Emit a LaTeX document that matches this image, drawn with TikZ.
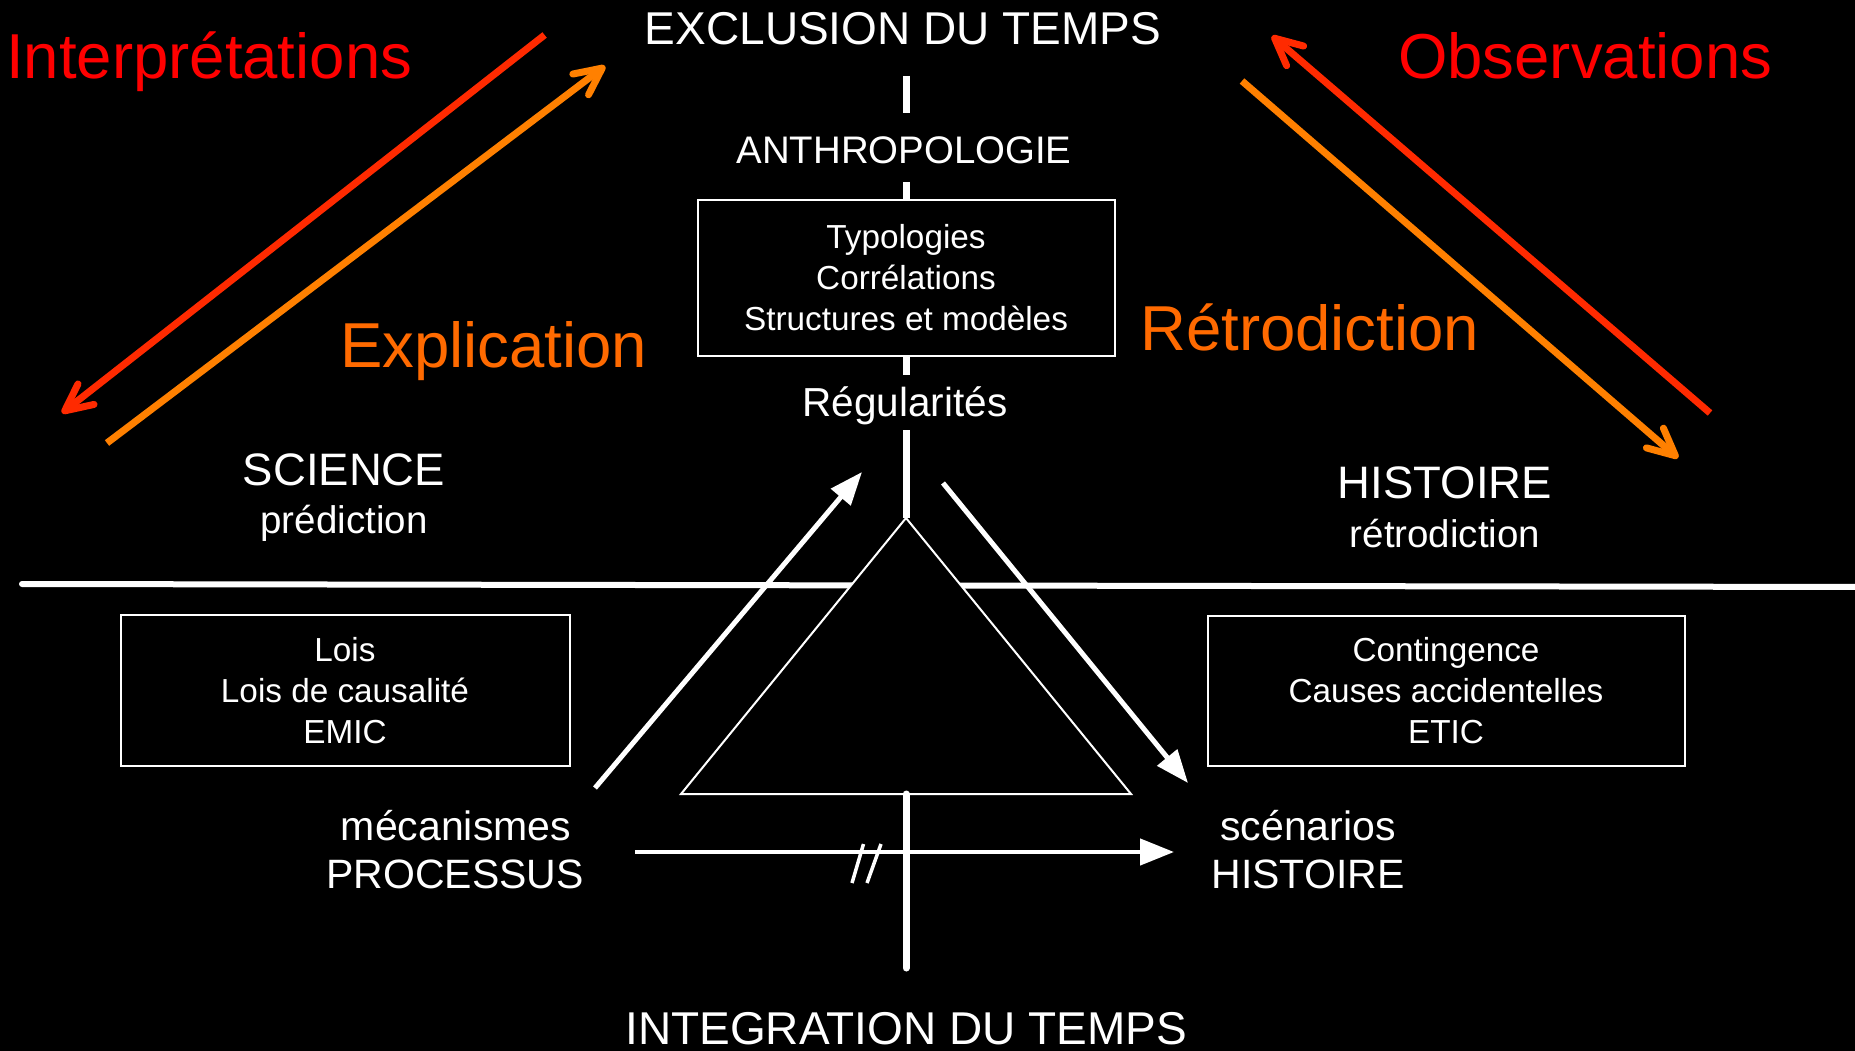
\documentclass[tikz,border=0pt]{standalone}
\usepackage{fontspec}
\setmainfont{Liberation Sans}
\usetikzlibrary{arrows.meta}
\definecolor{redtxt}{HTML}{FF0000}
\definecolor{redarr}{HTML}{FF2A00}
\definecolor{orgarr}{HTML}{FF8000}
\definecolor{orgtxt}{HTML}{FF6A00}
\newcommand{\myfs}[1]{\fontsize{#1}{#1}\selectfont}
\begin{document}
\begin{tikzpicture}[x=1pt,y=-1pt,
  lbl/.style={text=white, inner sep=0pt, anchor=base},
  biglbl/.style={inner sep=0pt, anchor=base west, font=\myfs{63.5}},
  boxst/.style={draw=white, line width=2pt, text=white, align=center, inner sep=0pt,
    font=\fontsize{33.3}{41}\selectfont},
  vline/.style={white, line width=7pt},
  colarrow/.style={line width=7pt, -{Straight Barb[length=27pt,width=26pt,round]}},
  warrow/.style={white, line width=5pt, -{Triangle[length=33pt,width=25pt]}}
]
\useasboundingbox (0,0) rectangle (1855,1051);
\fill[black] (0,0) rectangle (1855,1051);

% horizontal separator
\coordinate (hl) at (22,584);
\coordinate (hr) at (1870,587);
\draw[white, line width=6pt, line cap=round] (hl) -- (hr);

% triangle
\coordinate (apex) at (906,518);
\coordinate (bl) at (681,794);
\coordinate (br) at (1131,794);
\coordinate (basemid) at (906,794);
\draw[white, line width=2pt, fill=black] (apex) -- (bl) -- (br) -- cycle;

% texts
\node[biglbl, text=redtxt] (interp) at (6,79) {Interprétations};
\node[biglbl, text=redtxt] (obs) at (1398,79) {Observations};
\node[biglbl, text=orgtxt] (expl) at (340,367) {Explication};
\node[biglbl, text=orgtxt] (retro) at (1140,350) {Rétrodiction};

\node[lbl, font=\myfs{46}] (excl) at (903,45) {EXCLUSION DU TEMPS};
\node[lbl, font=\myfs{38.4}] (anthro) at (904,164) {ANTHROPOLOGIE};
\node[lbl, font=\myfs{40.5}] (regul) at (905,416) {Régularités};
\node[lbl, font=\myfs{45.5}] (science) at (344,485) {SCIENCE};
\node[lbl, font=\myfs{38.5}] (predic) at (344,533) {prédiction};
\node[lbl, font=\myfs{45.5}] (hist) at (1445,498) {HISTOIRE};
\node[lbl, font=\myfs{38.5}] (retrod) at (1445,547) {rétrodiction};
\node[lbl, font=\myfs{41}] (meca) at (456,840) {mécanismes};
\node[lbl, font=\myfs{41}] (proc) at (455,888) {PROCESSUS};
\node[lbl, font=\myfs{41}] (scen) at (1308,840) {scénarios};
\node[lbl, font=\myfs{41}] (hist2) at (1308,888) {HISTOIRE};
\node[lbl, font=\myfs{46}] (integ) at (906,1044) {INTEGRATION DU TEMPS};

% boxes
\node[boxst, minimum width=417pt, minimum height=156pt] (typo) at (906,278)
  {Typologies\\Corrélations\\Structures et modèles};
\node[boxst, minimum width=449pt, minimum height=151pt] (lois) at (345,690.5)
  {Lois\\Lois de causalité\\EMIC};
\node[boxst, minimum width=477pt, minimum height=150pt] (conting) at (1446,691)
  {Contingence\\Causes accidentelles\\ETIC};

% vertical axis
\coordinate (v1a) at (906,76);
\coordinate (v1b) at (906,113);
\coordinate (v2a) at (906,182);
\coordinate (v3b) at (906,375);
\coordinate (v4a) at (906,430);
\coordinate (vbot) at (906,968);
\draw[vline] (v1a) -- (v1b);
\draw[vline] (v2a) -- (typo.north);
\draw[vline] (typo.south) -- (v3b);
\draw[vline] (v4a) -- (apex);
\draw[vline, line cap=round] (basemid) -- (vbot);

% white arrows
\coordinate (wa1s) at (595,788);
\coordinate (wa1e) at (862,472);
\coordinate (wa2s) at (943,483);
\coordinate (wa2e) at (1188,783);
\coordinate (has) at (635,852);
\coordinate (hae) at (1174,852);
\draw[warrow] (wa1s) -- (wa1e);
\draw[warrow] (wa2s) -- (wa2e);
\draw[white, line width=4.5pt, -{Triangle[length=34pt,width=26pt]}] (has) -- (hae);

% break marks
\coordinate (m1a) at (852,883); \coordinate (m1b) at (863.5,844);
\coordinate (m2a) at (867,883); \coordinate (m2b) at (881,844);
\draw[white, line width=3.5pt] (m1a) -- (m1b);
\draw[white, line width=3.5pt] (m2a) -- (m2b);

% coloured arrows
\coordinate (rls) at (544.6,35);
\coordinate (rle) at (62,413);
\coordinate (ols) at (107,443);
\coordinate (ole) at (605,66);
\coordinate (rrs) at (1710,413);
\coordinate (rre) at (1272,36);
\coordinate (ors) at (1242,81);
\coordinate (ore) at (1678,458);
\draw[colarrow, redarr] (rls) -- (rle);
\draw[colarrow, orgarr] (ols) -- (ole);
\draw[colarrow, redarr] (rrs) -- (rre);
\draw[colarrow, orgarr] (ors) -- (ore);
\end{tikzpicture}
\end{document}
